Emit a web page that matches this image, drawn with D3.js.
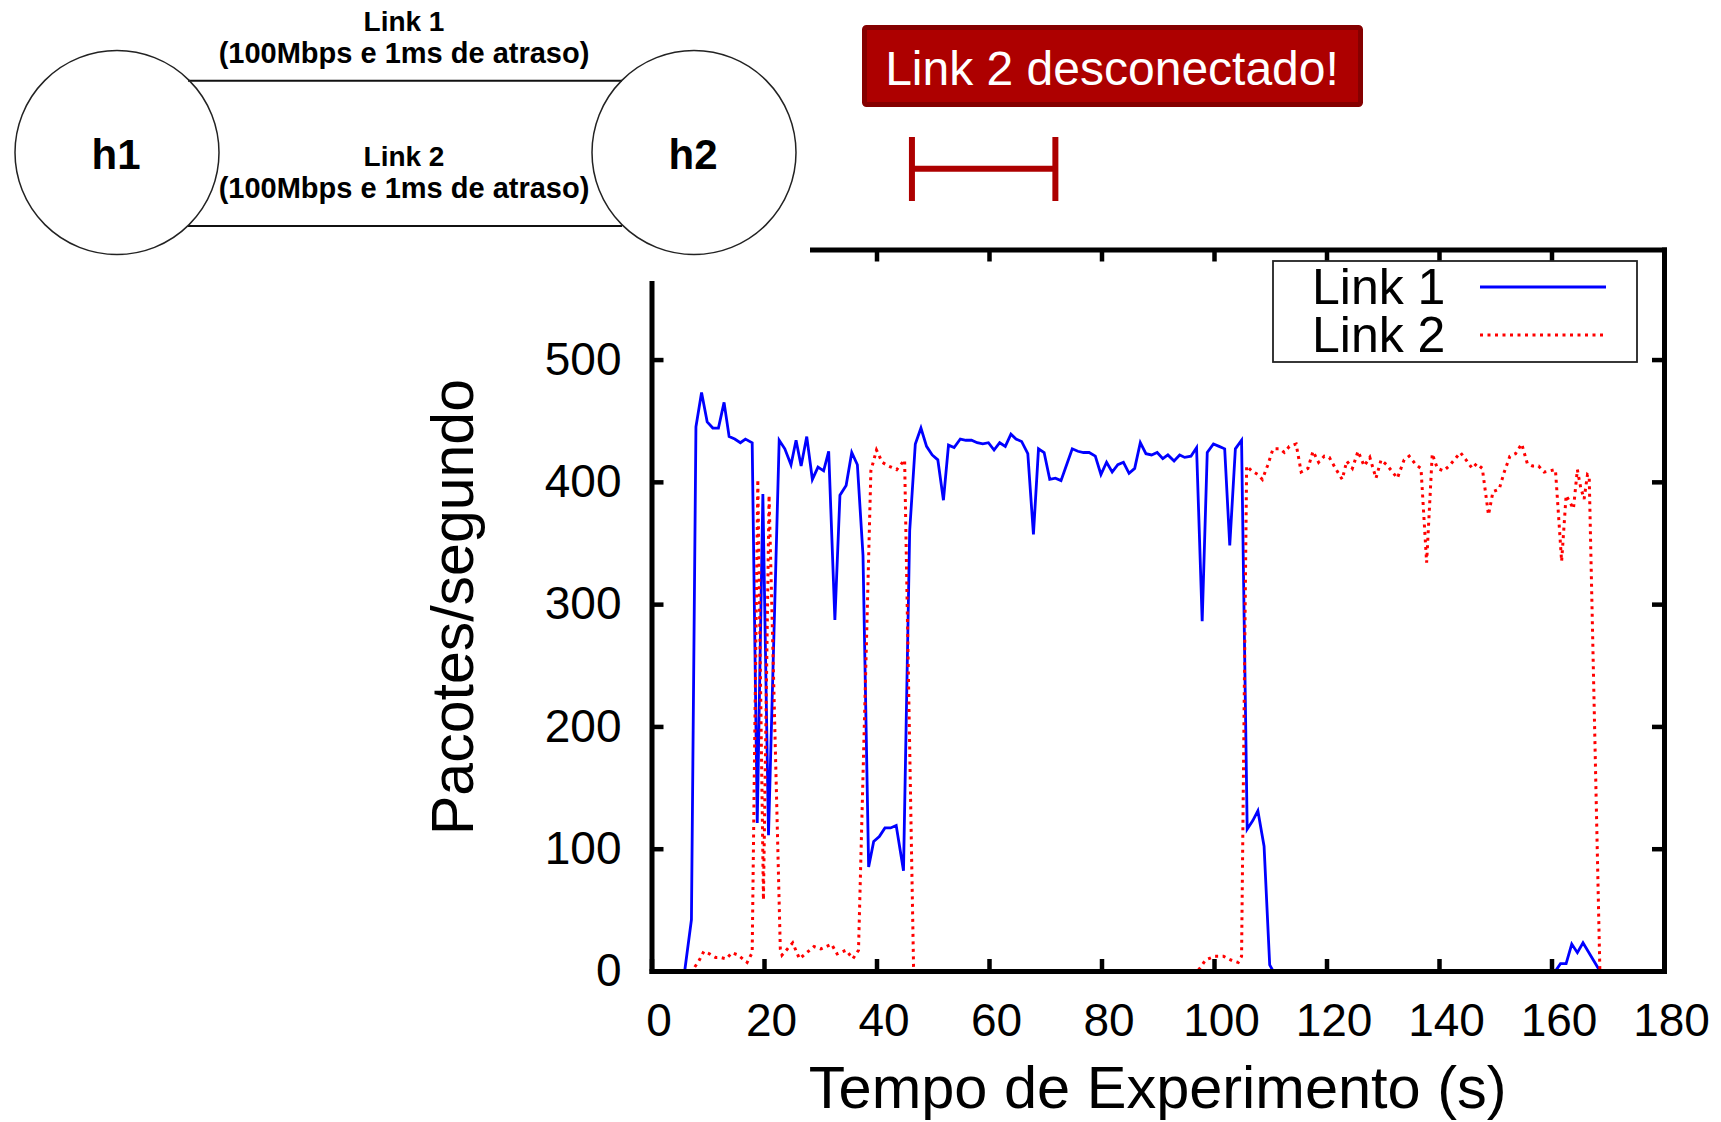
<!DOCTYPE html>
<html>
<head>
<meta charset="utf-8">
<script src="https://cdn.jsdelivr.net/npm/d3@7"></script>
<style>
  html, body { margin: 0; padding: 0; background: #fff; }
  svg { display: block; font-family: "Liberation Sans", Arial, Helvetica, sans-serif; }
</style>
</head>
<body>
<svg id="chart" width="1721" height="1122"></svg>
<script>
// [time (s), packets/s]
const link1 = [
  [0, 0], [5.9, 0], [7.1, 42], [7.9, 445], [8.9, 473], [9.9, 449], [10.9, 444], [11.9, 444],
  [12.9, 465], [13.8, 437], [14.8, 435], [15.8, 432], [16.7, 435], [17.9, 432], [18.8, 121],
  [19.8, 390], [20.8, 111], [22.7, 434], [23.7, 427], [24.8, 414], [25.7, 434], [26.6, 413],
  [27.6, 437], [28.6, 402], [29.6, 412], [30.6, 409], [31.5, 425], [32.6, 287], [33.5, 389],
  [34.6, 397], [35.6, 424], [36.6, 414], [37.6, 340], [38.6, 85], [39.5, 106], [40.5, 110],
  [41.5, 117], [42.5, 117], [43.5, 119], [44.8, 82], [45.9, 360], [46.9, 431], [47.9, 444],
  [48.9, 429], [49.9, 422], [50.9, 418], [51.9, 385], [52.8, 430], [53.8, 428], [54.9, 435],
  [55.9, 434], [56.9, 434], [57.9, 432], [58.9, 431], [59.9, 432], [60.9, 426], [61.9, 432],
  [62.9, 429], [63.9, 439], [64.8, 435], [65.8, 433], [66.9, 423], [67.9, 357], [68.8, 427],
  [69.8, 424], [70.8, 402], [71.8, 403], [72.8, 401], [73.8, 414], [74.8, 427], [75.8, 425],
  [76.8, 424], [77.8, 424], [78.9, 421], [79.9, 406], [80.9, 416], [81.9, 408], [82.9, 414],
  [83.9, 416], [84.9, 407], [85.9, 411], [86.9, 432], [87.9, 423], [88.9, 422], [89.9, 424],
  [90.9, 419], [91.8, 422], [92.9, 417], [93.9, 422], [94.8, 420], [95.9, 421], [96.9, 428],
  [97.9, 286], [98.8, 424], [99.9, 431], [100.9, 429], [101.9, 427], [102.8, 348], [103.8, 427],
  [104.9, 434], [105.9, 116], [106.9, 123], [107.8, 131], [108.9, 102], [109.9, 5], [110.5, 0],
  [160.7, 0], [161.6, 6], [162.6, 6], [163.6, 22], [164.6, 15], [165.6, 23], [168.6, 0]
];

const link2 = [
  [0, 0], [7.0, 0], [7.5, 2], [8.4, 8], [9.3, 16], [10.3, 14], [11.4, 11], [12.3, 11], [13.3, 10],
  [14.3, 15], [15.4, 13], [17.0, 7], [17.9, 15], [18.9, 402], [19.9, 58], [20.9, 389],
  [22.9, 18], [23.2, 13], [25.1, 23], [26.3, 10], [28.9, 20], [30.1, 18], [32.0, 22],
  [33.0, 14], [34.6, 17], [35.8, 10], [36.8, 17], [39.0, 409], [40.0, 426], [41.0, 416],
  [42.1, 413], [43.6, 410], [45.0, 418], [46.6, 0], [97.1, 0], [97.6, 3], [98.5, 9], [100.1, 12],
  [101.7, 12], [103.0, 9], [104.3, 7], [104.9, 12], [105.8, 413], [106.7, 409], [107.8, 406],
  [108.6, 402], [109.5, 413], [110.5, 427], [111.7, 427], [112.5, 424], [113.4, 429],
  [114.6, 431], [115.5, 408], [116.7, 411], [117.6, 425], [118.6, 416], [119.6, 421],
  [120.5, 420], [121.6, 411], [122.8, 402], [123.6, 417], [124.6, 411], [125.6, 425],
  [126.7, 413], [127.7, 420], [128.8, 403], [129.7, 418], [130.7, 414], [132.6, 403],
  [133.8, 418], [134.7, 421], [135.9, 414], [136.8, 411], [137.8, 334], [138.8, 423],
  [139.7, 411], [140.8, 409], [141.8, 413], [143.8, 424], [144.8, 418], [145.9, 411],
  [146.7, 415], [147.7, 411], [148.8, 373], [149.6, 392], [150.7, 394], [151.6, 408],
  [152.6, 421], [153.6, 423], [154.7, 431], [155.7, 415], [156.6, 413], [157.7, 413],
  [158.7, 408], [160.7, 410], [161.8, 335], [162.6, 389], [163.9, 378], [164.6, 410],
  [165.2, 395], [165.8, 386], [166.4, 406], [166.7, 405], [168.6, 0]
];

const seriesNames = ['Link 1', 'Link 2'];
const seriesColors = ['#0000ff', '#ff0000'];
const xTicks = [0, 20, 40, 60, 80, 100, 120, 140, 160, 180];
const yTicks = [0, 100, 200, 300, 400, 500];
const disconnectSpan = [46.3, 71.8];
const linkLabels = ['Link 1', 'Link 2'];
const linkSpec = '(100Mbps e 1ms de atraso)';
const hosts = ['h1', 'h2'];

const svg = d3.select('#chart');

const plot = { left: 651.5, right: 1664, top: 249.5, bottom: 971 };

const x = d3.scaleLinear().domain([0, 180]).range([plot.left, plot.right]);
const y = d3.scaleLinear().domain([0, 590]).range([plot.bottom, plot.top]);

const line = d3.line()
  .x(d => x(d[0]))
  .y(d => y(d[1]));

// series
svg.append('path')
  .datum(link1)
  .attr('fill', 'none')
  .attr('stroke', seriesColors[0])
  .attr('stroke-width', 2.8)
  .attr('d', line);

svg.append('path')
  .datum(link2)
  .attr('fill', 'none')
  .attr('stroke', seriesColors[1])
  .attr('stroke-width', 3)
  .attr('stroke-dasharray', '3 4.5')
  .attr('d', line);

// frame: ticks on all four sides pointing inward
const styleAxis = g => {
  g.select('.domain').attr('stroke', '#000').attr('stroke-width', 5).attr('stroke-linecap', 'square');
  g.selectAll('.tick line').attr('stroke', '#000').attr('stroke-width', 4.5);
  g.selectAll('.tick text').attr('fill', '#000');
};

svg.append('g')
  .attr('transform', `translate(0, ${plot.bottom})`)
  .call(d3.axisBottom(x).tickValues(xTicks).tickSizeInner(-12).tickSizeOuter(0).tickPadding(32))
  .call(styleAxis)
  .call(g => g.selectAll('.tick text').attr('font-size', 46).attr('dx', 7));

svg.append('g')
  .attr('transform', `translate(${plot.left}, 0)`)
  .call(d3.axisLeft(y).tickValues(yTicks).tickSizeInner(-12).tickSizeOuter(0).tickPadding(30))
  .call(styleAxis)
  .call(g => g.selectAll('.tick text').attr('font-size', 46));

svg.append('g')
  .attr('transform', `translate(0, ${plot.top})`)
  .call(d3.axisTop(x).tickValues(xTicks).tickSizeInner(-12).tickSizeOuter(0).tickFormat(''))
  .call(styleAxis);

svg.append('g')
  .attr('transform', `translate(${plot.right}, 0)`)
  .call(d3.axisRight(y).tickValues(yTicks).tickSizeInner(-12).tickSizeOuter(0).tickFormat(''))
  .call(styleAxis);

// axis titles
svg.append('text')
  .attr('x', (plot.left + plot.right) / 2)
  .attr('y', 1108)
  .attr('text-anchor', 'middle')
  .attr('font-size', 59.5)
  .text('Tempo de Experimento (s)');

svg.append('text')
  .attr('transform', 'translate(473, 607) rotate(-90)')
  .attr('text-anchor', 'middle')
  .attr('font-size', 59)
  .text('Pacotes/segundo');

// legend
const legend = svg.append('g');
legend.append('rect')
  .attr('x', 1273).attr('y', 261)
  .attr('width', 364).attr('height', 101)
  .attr('fill', '#fff')
  .attr('stroke', '#222')
  .attr('stroke-width', 1.8);

seriesNames.forEach((name, i) => {
  const ly = 287 + i * 48;
  legend.append('text')
    .attr('x', 1312)
    .attr('y', ly + 17)
    .attr('font-size', 50)
    .text(name);
  legend.append('line')
    .attr('x1', 1480).attr('x2', 1606)
    .attr('y1', ly).attr('y2', ly)
    .attr('stroke', seriesColors[i])
    .attr('stroke-width', i === 0 ? 2.8 : 3)
    .attr('stroke-dasharray', i === 0 ? null : '3 4.5');
});

// the topology picture sits over the top-left corner of the frame
svg.append('rect')
  .attr('x', 0).attr('y', 0)
  .attr('width', 810).attr('height', 281)
  .attr('fill', '#fff');

const topo = svg.append('g').attr('fill', 'none');
[80.7, 226].forEach(ly => {
  topo.append('line')
    .attr('x1', 188).attr('x2', 622)
    .attr('y1', ly).attr('y2', ly)
    .attr('stroke', '#111')
    .attr('stroke-width', 2);
});
[[117, 152.5], [694, 152.5]].forEach(([cx, cy], i) => {
  topo.append('circle')
    .attr('cx', cx).attr('cy', cy).attr('r', 102)
    .attr('fill', 'none')
    .attr('stroke', '#222')
    .attr('stroke-width', 1.5);
  svg.append('text')
    .attr('x', cx - 1).attr('y', cy + 16)
    .attr('text-anchor', 'middle')
    .attr('font-size', 42)
    .attr('font-weight', 'bold')
    .text(hosts[i]);
});

linkLabels.forEach((lbl, i) => {
  const base = i === 0 ? 31 : 166;
  svg.append('text')
    .attr('x', 404).attr('y', base)
    .attr('text-anchor', 'middle')
    .attr('font-size', 28)
    .attr('font-weight', 'bold')
    .text(lbl);
  svg.append('text')
    .attr('x', 404).attr('y', base + 32)
    .attr('text-anchor', 'middle')
    .attr('font-size', 29)
    .attr('font-weight', 'bold')
    .text(linkSpec);
});

// disconnect banner and bracket
svg.append('rect')
  .attr('x', 864.5).attr('y', 27.5)
  .attr('width', 496).attr('height', 77)
  .attr('rx', 2)
  .attr('fill', '#ad0000')
  .attr('stroke', '#850000')
  .attr('stroke-width', 5);

svg.append('text')
  .attr('x', 1112).attr('y', 85)
  .attr('text-anchor', 'middle')
  .attr('font-size', 48)
  .attr('fill', '#fff')
  .text('Link 2 desconectado!');

const bracket = svg.append('g').attr('stroke', '#ad0000').attr('stroke-width', 6);
disconnectSpan.forEach(t => {
  bracket.append('line')
    .attr('x1', x(t)).attr('x2', x(t))
    .attr('y1', 137).attr('y2', 201);
});
bracket.append('line')
  .attr('x1', x(disconnectSpan[0])).attr('x2', x(disconnectSpan[1]))
  .attr('y1', 168.7).attr('y2', 168.7);
</script>
</body>
</html>
